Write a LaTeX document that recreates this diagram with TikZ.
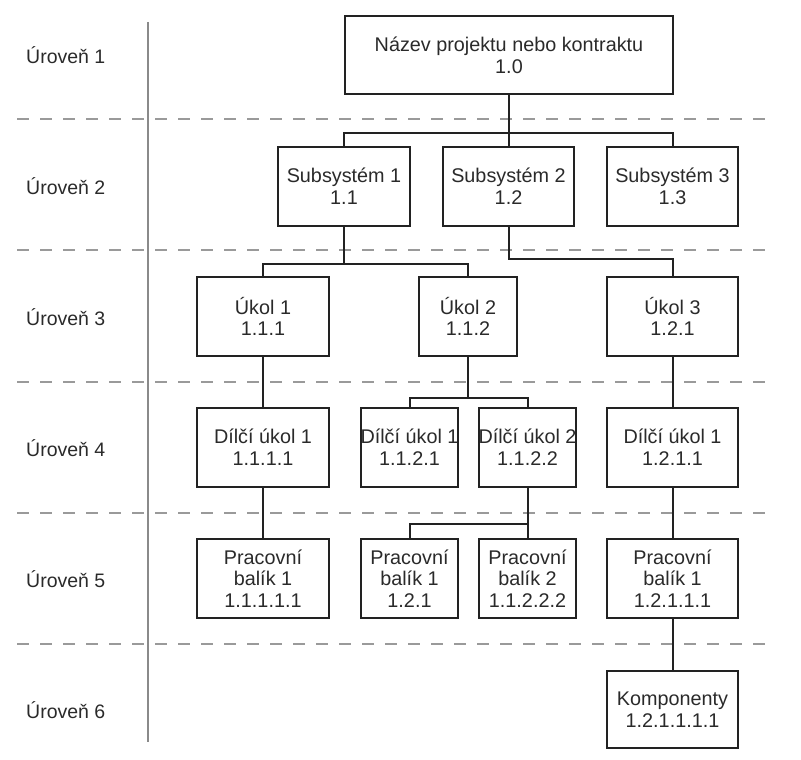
\documentclass[tikz,border=0pt]{standalone}
\usepackage{fontspec}
\setmainfont{Liberation Sans}
\definecolor{ink}{HTML}{222222}
\definecolor{txt}{HTML}{2A2A2A}
\definecolor{sep}{HTML}{8A8A8A}
\definecolor{dash}{HTML}{9A9A9A}
\begin{document}
\begin{tikzpicture}[x=1pt,y=-1pt,
  box/.style={draw=ink, line width=2pt, align=center, inner sep=0pt,
    minimum height=79pt, text=txt, font=\fontsize{19.8}{21.7}\selectfont},
  wide/.style={box, minimum width=131pt},
  narrow/.style={box, minimum width=97pt},
  lvl/.style={anchor=west, inner sep=0pt, text=txt, font=\fontsize{19.5}{21.5}\selectfont},
  conn/.style={draw=ink, line width=2pt},
  sepline/.style={draw=dash, line width=1.4pt, dash pattern=on 12pt off 11pt}]
\useasboundingbox (0,0) rectangle (801,760);

% level separators
\foreach \yy in {119,250,382,513,644}
  \draw[sepline] (17,\yy) -- (768,\yy);
\coordinate (vtop) at (148,22);
\coordinate (vbot) at (148,742);
\draw[draw=sep, line width=1.4pt] (vtop) -- (vbot);

% level labels
\node[lvl] (L1) at (26,55) {Úroveň 1};
\node[lvl] (L2) at (26,186) {Úroveň 2};
\node[lvl] (L3) at (26,317) {Úroveň 3};
\node[lvl] (L4) at (26,448) {Úroveň 4};
\node[lvl] (L5) at (26,579) {Úroveň 5};
\node[lvl] (L6) at (26,710) {Úroveň 6};

% nodes
\node[box, minimum width=328pt, minimum height=78pt] (top) at (509,55) {Název projektu nebo kontraktu\\1.0};
\node[wide, minimum width=132pt] (S1) at (344,186.5) {Subsystém 1\\1.1};
\node[wide] (S2) at (508.5,186.5) {Subsystém 2\\1.2};
\node[wide] (S3) at (672.5,186.5) {Subsystém 3\\1.3};

\node[wide, minimum width=132pt] (U1) at (263,316.5) {Úkol 1\\1.1.1};
\node[box, minimum width=98pt] (U2) at (468,316.5) {Úkol 2\\1.1.2};
\node[wide] (U3) at (672.5,316.5) {Úkol 3\\1.2.1};

\node[wide, minimum width=132pt] (D1) at (263,447.5) {Dílčí úkol 1\\1.1.1.1};
\node[narrow] (D121) at (409.5,447.5) {Dílčí úkol 1\\1.1.2.1};
\node[narrow] (D122) at (527.5,447.5) {Dílčí úkol 2\\1.1.2.2};
\node[wide] (D1211) at (672.5,447.5) {Dílčí úkol 1\\1.2.1.1};

\node[wide, minimum width=132pt] (P1) at (263,578.5) {Pracovní\\balík 1\\1.1.1.1.1};
\node[narrow] (P121) at (409.5,578.5) {Pracovní\\balík 1\\1.2.1};
\node[narrow] (P2) at (527.5,578.5) {Pracovní\\balík 2\\1.1.2.2.2};
\node[wide] (P12111) at (672.5,578.5) {Pracovní\\balík 1\\1.2.1.1.1};

\node[wide, minimum height=77pt] (K) at (672.5,709.5) {Komponenty\\1.2.1.1.1.1};

% connectors
\draw[conn] (top.south) -- (top.south |- 0,133);
\draw[conn] (S1.north) |- (S3.north |- 0,133) -- (S3.north);
\draw[conn] (S2.north) -- (S2.north |- 0,133);

\draw[conn] (S1.south) -- (S1.south |- 0,264);
\draw[conn] (U1.north) |- (U2.north |- 0,264) -- (U2.north);

\draw[conn] (S2.south) |- (U3.north |- 0,259) -- (U3.north);

\draw[conn] (U1.south) -- (D1.north);
\draw[conn] (U2.south) -- (U2.south |- 0,398);
\draw[conn] (D121.north) |- (D122.north |- 0,398) -- (D122.north);
\draw[conn] (U3.south) -- (D1211.north);

\draw[conn] (D1.south) -- (P1.north);
\draw[conn] (D122.south) -- (D122.south |- 0,524);
\draw[conn] (P121.north) |- (P2.north |- 0,524) -- (P2.north);
\draw[conn] (D1211.south) -- (P12111.north);
\draw[conn] (P12111.south) -- (K.north);
\end{tikzpicture}
\end{document}
